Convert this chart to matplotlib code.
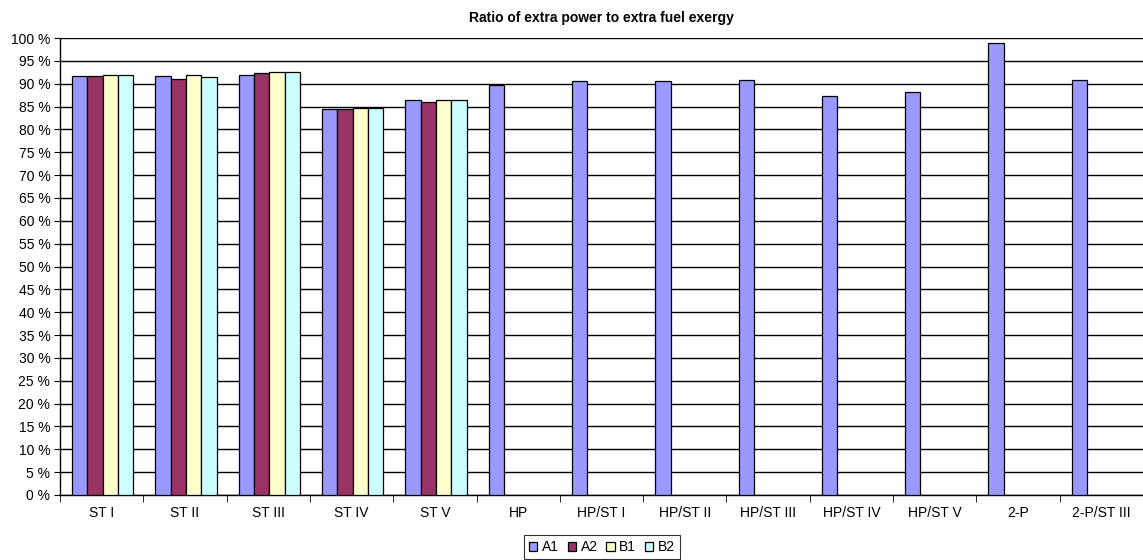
import matplotlib
matplotlib.use("Agg")
import matplotlib.pyplot as plt
import numpy as np
from matplotlib.ticker import FixedLocator, FuncFormatter

plt.rcParams['font.family'] = ['Liberation Sans', 'DejaVu Sans']

# --- Data -----------------------------------------------------------------
categories = ["ST I", "ST II", "ST III", "ST IV", "ST V", "HP", "HP/ST I",
              "HP/ST II", "HP/ST III", "HP/ST IV", "HP/ST V", "2-P", "2-P/ST III"]
nan = np.nan
a1 = [91.7, 91.7, 92.0, 84.4, 86.4, 89.7, 90.5, 90.5, 90.8, 87.3, 88.1, 98.8, 90.8]
a2 = [91.7, 91.1, 92.3, 84.4, 86.1, nan, nan, nan, nan, nan, nan, nan, nan]
b1 = [92.0, 92.0, 92.5, 84.6, 86.4, nan, nan, nan, nan, nan, nan, nan, nan]
b2 = [92.0, 91.4, 92.5, 84.6, 86.4, nan, nan, nan, nan, nan, nan, nan, nan]
series_names = ["A1", "A2", "B1", "B2"]
colors = ["#9999FF", "#993366", "#FFFFCC", "#CCFFFF"]

# --- Plot -----------------------------------------------------------------
W, H = 1143, 560
fig = plt.figure(figsize=(W / 100, H / 100), dpi=100)
ax = fig.add_axes([60 / W, (H - 495) / H, 1083 / W, 457 / H])

x = np.arange(len(categories))
bar_w = 0.184
offset0 = -0.5 + 0.145
for i, (vals, name, c) in enumerate(zip([a1, a2, b1, b2], series_names, colors)):
    ax.bar(x + offset0 + i * bar_w, vals, width=bar_w, align="edge", color=c,
           edgecolor="black", linewidth=0.9, label=name, zorder=3)

ax.set_xlim(-0.5, len(categories) - 0.5)
ax.set_ylim(0, 100)
ax.yaxis.set_major_locator(FixedLocator(np.arange(0, 101, 5)))
ax.yaxis.set_major_formatter(FuncFormatter(lambda v, p: f"{int(v)} %"))
ax.grid(axis="y", color="black", linewidth=1.0, zorder=0)
ax.set_axisbelow(True)

ax.set_xticks(x)
ax.set_xticklabels(categories)
ax.set_xticks(np.arange(-0.5, len(categories), 1), minor=True)
ax.tick_params(axis="x", which="major", length=0, pad=8, labelsize=10)
ax.tick_params(axis="x", which="minor", length=5, direction="out")
ax.tick_params(axis="y", length=4, direction="out", labelsize=10, pad=3)

for s in ["top", "right"]:
    ax.spines[s].set_visible(False)
ax.spines["left"].set_linewidth(1.0)
ax.spines["bottom"].set_linewidth(1.0)

fig.text(0.5 * (60 + 1143) / W, (H - 18) / H, "Ratio of extra power to extra fuel exergy",
         ha="center", va="center", fontsize=10, fontweight="bold")

leg = fig.legend(loc="center", bbox_to_anchor=(602 / W, (H - 547) / H), ncol=4,
                 fontsize=10, frameon=True, fancybox=False, edgecolor="black",
                 handlelength=0.6, handleheight=0.6, handletextpad=0.35,
                 columnspacing=0.6, borderpad=0.35, borderaxespad=0)
leg.get_frame().set_linewidth(0.8)

fig.savefig("out.png", dpi=100)
